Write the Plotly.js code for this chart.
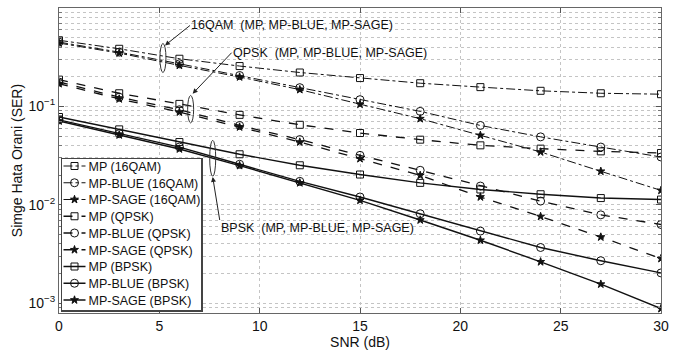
<!DOCTYPE html>
<html>
<head>
<meta charset="utf-8">
<script src="https://cdn.plot.ly/plotly-3.0.1.min.js"></script>
<style>html,body{margin:0;padding:0;background:#fff;}#chart{width:694px;height:361px;}</style>
</head>
<body>
<div id="chart"></div>
<script>
// ---- data ----
const snr = [0, 3, 6, 9, 12, 15, 18, 21, 24, 27, 30];

const mp16qam    = [0.470, 0.385, 0.305, 0.257, 0.221, 0.194, 0.172, 0.157, 0.144, 0.136, 0.133];
const blue16qam  = [0.450, 0.356, 0.271, 0.206, 0.155, 0.117, 0.089, 0.064, 0.049, 0.0386, 0.0306];
const sage16qam  = [0.440, 0.348, 0.261, 0.199, 0.148, 0.105, 0.075, 0.0508, 0.0344, 0.0219, 0.0140];

const mpQpsk     = [0.187, 0.136, 0.106, 0.082, 0.065, 0.0536, 0.0459, 0.0402, 0.0372, 0.0349, 0.0336];
const blueQpsk   = [0.177, 0.124, 0.0925, 0.064, 0.046, 0.0318, 0.0224, 0.0155, 0.0109, 0.0079, 0.0063];
const sageQpsk   = [0.170, 0.119, 0.0875, 0.0617, 0.0434, 0.0294, 0.0199, 0.0120, 0.0076, 0.0047, 0.00284];

const mpBpsk     = [0.078, 0.0584, 0.0434, 0.0326, 0.0252, 0.0203, 0.0167, 0.0143, 0.0128, 0.0117, 0.0113];
const blueBpsk   = [0.073, 0.0528, 0.0386, 0.0258, 0.0173, 0.0120, 0.0081, 0.0054, 0.00368, 0.0027, 0.00203];
const sageBpsk   = [0.071, 0.0512, 0.0369, 0.0250, 0.0167, 0.0111, 0.0070, 0.00436, 0.00263, 0.00156, 0.00088];

const seriesNames = ["MP (16QAM)", "MP-BLUE (16QAM)", "MP-SAGE (16QAM)",
                     "MP (QPSK)", "MP-BLUE (QPSK)", "MP-SAGE (QPSK)",
                     "MP (BPSK)", "MP-BLUE (BPSK)", "MP-SAGE (BPSK)"];
const seriesValues = [mp16qam, blue16qam, sage16qam, mpQpsk, blueQpsk, sageQpsk, mpBpsk, blueBpsk, sageBpsk];

const xTicks = [0, 5, 10, 15, 20, 25, 30];
const yTickVals = [1, 0.1, 0.01, 0.001];
const yTickText = ["10<sup>0</sup>", "10<sup>\u22121</sup>", "10<sup>\u22122</sup>", "10<sup>\u22123</sup>"];

const groupLabels = ["16QAM  (MP, MP-BLUE, MP-SAGE)", "QPSK  (MP, MP-BLUE, MP-SAGE)", "BPSK  (MP, MP-BLUE, MP-SAGE)"];

// ---- styles ----
const dashes = ["dashdot", "dashdot", "dashdot", "dash", "dash", "dash", "solid", "solid", "solid"];
const symbols = ["square-open", "circle-open", "star", "square-open", "circle-open", "star", "square-open", "circle-open", "star"];
const sizes = [7, 8, 6, 7, 8, 6, 7, 8, 6];
const widths = [1, 1, 1, 1.3, 1.3, 1.3, 1.4, 1.4, 1.4];

const traces = seriesValues.map((vals, i) => ({
  x: snr, y: vals, name: seriesNames[i], type: 'scatter', mode: 'lines+markers',
  line: {color: '#111', width: widths[i], dash: dashes[i]},
  marker: {symbol: symbols[i], size: sizes[i], color: '#111', line: {color: '#111', width: 1}}
}));

// annotation geometry (ellipses: [x0,x1,y0,y1]; arrows: head x, log10 head y, tail dx, tail dy, yanchor)
const ellipses = [[5.03, 5.33, 0.221, 0.436], [6.41, 6.71, 0.0679, 0.129], [7.51, 7.81, 0.0195, 0.0452]];
const arrows = [[5.28, -0.381, 25, -20, 'middle'], [6.66, -0.871, 39, -41, 'middle'], [7.66, -1.718, 7, 43, 'top']];

const shapes = ellipses.map(e => ({type: 'circle', xref: 'x', yref: 'y', x0: e[0], x1: e[1], y0: e[2], y1: e[3],
  line: {color: '#333', width: 1}}));

const annotations = groupLabels.map((t, i) => ({
  x: arrows[i][0], y: arrows[i][1], xref: 'x', yref: 'y', text: t, showarrow: true,
  ax: arrows[i][2], ay: arrows[i][3], xanchor: 'left', yanchor: arrows[i][4], borderpad: 0,
  arrowhead: 2, arrowsize: 1, arrowwidth: 1, arrowcolor: '#222',
  font: {family: 'Liberation Sans, Arial, sans-serif', size: 12.5, color: '#111'}
}));

const gridColor = '#c4c4c4';
const layout = {
  width: 694, height: 361,
  margin: {l: 59, r: 33, t: 8, b: 48, autoexpand: false},
  paper_bgcolor: '#fff', plot_bgcolor: '#fff',
  font: {family: 'Liberation Sans, Arial, sans-serif', color: '#111', size: 14},
  showlegend: true,
  legend: {x: 0.004, y: 0.99, xanchor: 'left', yanchor: 'top', bgcolor: '#fff', bordercolor: '#444', borderwidth: 1.3,
    font: {size: 12.5, color: '#111'}, itemwidth: 30, tracegroupgap: 0},
  xaxis: {
    range: [0, 30], tickvals: xTicks, ticks: 'inside', ticklen: 5, tickcolor: '#555',
    showline: true, linecolor: '#666', linewidth: 1, mirror: 'ticks',
    showgrid: true, gridcolor: gridColor, griddash: 'dot', gridwidth: 1, zeroline: false,
    tickfont: {size: 14}, title: {text: 'SNR (dB)', font: {size: 14}, standoff: 4}
  },
  yaxis: {
    type: 'log', range: [-3.1, 0], tickvals: yTickVals, ticktext: yTickText,
    ticks: 'inside', ticklen: 5, tickcolor: '#555',
    showline: true, linecolor: '#666', linewidth: 1, mirror: 'ticks',
    showgrid: true, gridcolor: gridColor, griddash: 'dot', gridwidth: 1, zeroline: false,
    minor: {dtick: 'D1', ticks: 'inside', ticklen: 3, tickcolor: '#777', showgrid: true, gridcolor: gridColor, griddash: 'dot', gridwidth: 1},
    tickfont: {size: 14}, title: {text: 'Simge Hata Orani (SER)', font: {size: 14}, standoff: 2}
  },
  shapes: shapes,
  annotations: annotations
};

Plotly.newPlot('chart', traces, layout, {displayModeBar: false, staticPlot: true}).then(() => {
  // tighten the legend rows and symbol samples to the reference's spacing
  const lg = document.querySelector('#chart .legend');
  if (!lg) return;
  lg.setAttribute('transform', 'translate(60.5,157.5)');
  const rowGap = 16.75, firstRow = 8.5;
  lg.querySelectorAll('g.traces').forEach((g, i) => {
    g.setAttribute('transform', 'translate(0,' + (firstRow + i * rowGap) + ')');
    g.querySelectorAll('g.legendlines path').forEach(p => p.setAttribute('d', 'M3,0h22'));
    g.querySelectorAll('g.legendpoints path.scatterpts').forEach(p => p.setAttribute('transform', 'translate(14,0)'));
    const t = g.querySelector('text.legendtext');
    if (t) {
      t.setAttribute('x', 28);
      t.querySelectorAll('tspan').forEach(s => { if (s.hasAttribute('x')) s.setAttribute('x', 28); });
    }
  });
  const bg = lg.querySelector('rect.bg');
  if (bg) { bg.setAttribute('height', 153); bg.setAttribute('width', 141); }
});
</script>
</body>
</html>
